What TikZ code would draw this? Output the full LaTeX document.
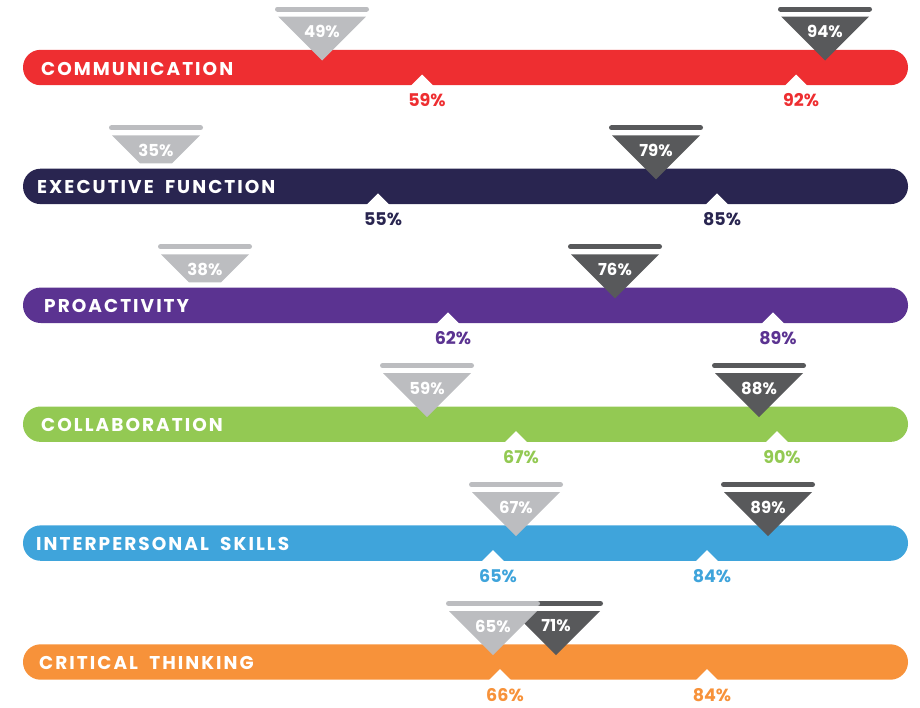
\documentclass[tikz,border=0pt]{standalone}
\usepackage{fontspec}
\setmainfont{Poppins}
\newfontfamily\barfont{Poppins}[LetterSpace=11, WordSpace=1.9]
\usepackage{tikz}
\definecolor{commred}{RGB}{238,46,49}
\definecolor{execnavy}{RGB}{41,37,80}
\definecolor{proapurple}{RGB}{91,51,145}
\definecolor{collgreen}{RGB}{147,201,83}
\definecolor{interblue}{RGB}{63,164,219}
\definecolor{critorange}{RGB}{247,146,58}
\definecolor{markgrey}{RGB}{188,189,192}
\definecolor{markdark}{RGB}{88,89,91}

\tikzset{
  barname/.style={anchor=west, text=white, inner sep=0pt,
    font=\barfont\bfseries\fontsize{18.5}{18.5}\selectfont},
  pct/.style={inner sep=0pt, font=\bfseries\fontsize{17.5}{17.5}\selectfont},
  tripct/.style={inner sep=0pt, text=white, font=\bfseries\fontsize{16.5}{16.5}\selectfont},
}

\begin{document}
\begin{tikzpicture}[x=1pt,y=-1pt]
\useasboundingbox (0,0) rectangle (920,707);

% Bars
\foreach \i/\name/\col/\lx in {0/COMMUNICATION/commred/41, 1/EXECUTIVE FUNCTION/execnavy/37,
    2/PROACTIVITY/proapurple/44, 3/COLLABORATION/collgreen/41,
    4/INTERPERSONAL SKILLS/interblue/36, 5/CRITICAL THINKING/critorange/39}{
  \pgfmathsetmacro\y{67.5+118.9*\i}
  \fill[\col, rounded corners=17.6] (23,\y-17.7) rectangle (908,\y+17.7);
  \node[barname] (bar\i) at (\lx,\y+1) {\name};
}

% Upper markers: dark ones first, grey ones over them
\foreach \i/\x/\v/\col/\b in {0/825/94/markdark/7, 1/656/79/markdark/7, 2/615/76/markdark/7,
    3/759/88/markdark/7, 4/768/89/markdark/7, 5/556/71/markdark/7,
    0/322/49/markgrey/7, 1/156/35/markgrey/23, 2/205/38/markgrey/23,
    3/427/59/markgrey/7, 4/516/67/markgrey/7, 5/493/65/markgrey/7}{
  \pgfmathsetmacro\y{67.5+118.9*\i}
  \pgfmathsetmacro\h{\b-7}
  \draw[\col, line width=5, line cap=round] (\x-44.5,\y-58.5) -- (\x+44.5,\y-58.5);
  \fill[\col] (\x-44,\y-51) -- (\x+44,\y-51) -- (\x+\h,\y-\b) -- (\x-\h,\y-\b) -- cycle;
  \node[tripct] (top\i-\v) at (\x,\y-36) {\v\%};
}

% Lower markers
\foreach \i/\x/\v/\col in {0/422/59/commred, 0/796/92/commred, 1/378/55/execnavy, 1/717/85/execnavy,
    2/448/62/proapurple, 2/773/89/proapurple, 3/516/67/collgreen, 3/777/90/collgreen,
    4/493/65/interblue, 4/707/84/interblue, 5/500/66/critorange, 5/707/84/critorange}{
  \pgfmathsetmacro\y{67.5+118.9*\i}
  \fill[white] (\x-11.5,\y+18.5) -- (\x,\y+7) -- (\x+11.5,\y+18.5) -- cycle;
  \node[pct, text=\col] (low\i-\v) at (\x+5,\y+33) {\v\%};
}
\end{tikzpicture}
\end{document}
